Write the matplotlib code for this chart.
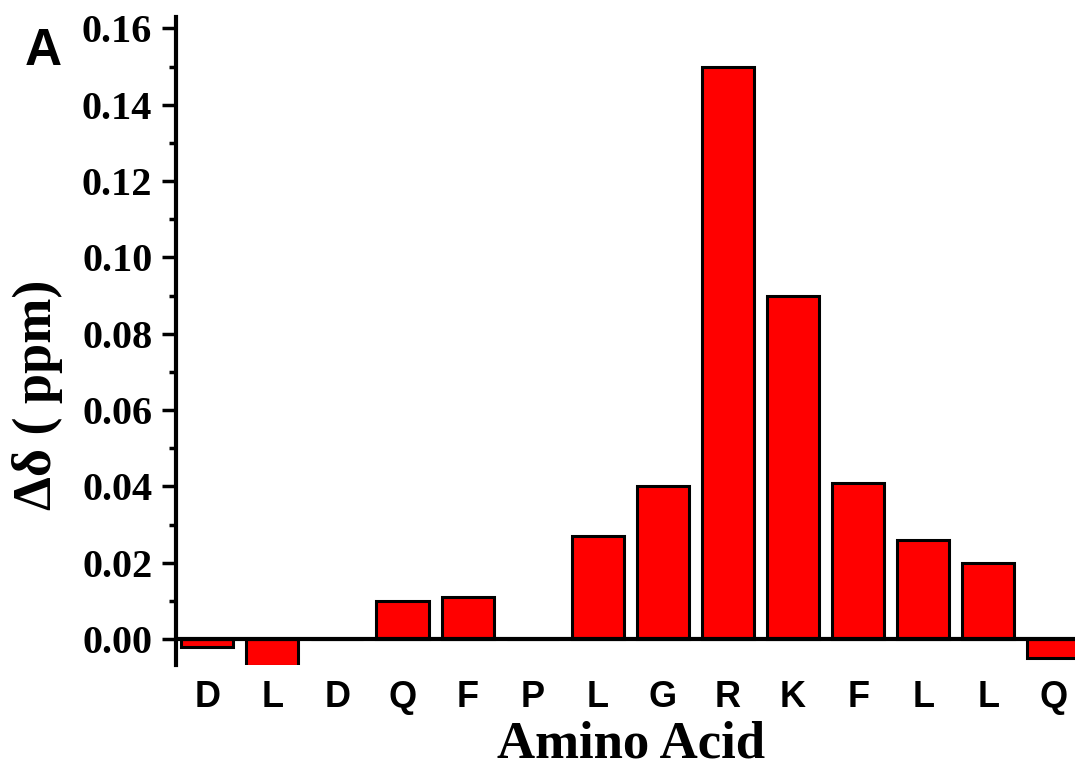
import matplotlib
matplotlib.use("Agg")
import matplotlib.pyplot as plt
from matplotlib.ticker import MultipleLocator

residues = ["D", "L", "D", "Q", "F", "P", "L", "G", "R", "K", "F", "L", "L", "Q"]
shift = [-0.002, -0.007, 0.0, 0.010, 0.011, 0.0, 0.027, 0.040,
         0.150, 0.090, 0.041, 0.026, 0.020, -0.005]

fig = plt.figure(figsize=(10.75, 7.71), dpi=100)
ax = fig.add_axes([0.1637, 0.1375, 0.8466, 0.8405])

x = range(len(residues))
ax.bar(x, shift, width=0.8, color="#ff0000", edgecolor="black", linewidth=2.2, zorder=2)
ax.axhline(0, color="black", linewidth=3, zorder=3)

ax.set_xlim(-0.48, 13.5)
ax.set_ylim(-0.0068, 0.163)

for side in ["top", "right", "bottom"]:
    ax.spines[side].set_visible(False)
ax.spines["left"].set_linewidth(3)

# y axis: major every 0.02, minor every 0.01, ticks outward
ax.yaxis.set_major_locator(MultipleLocator(0.02))
ax.yaxis.set_minor_locator(MultipleLocator(0.01))
ax.tick_params(axis="y", which="major", direction="out", length=10, width=2.5, pad=7)
ax.tick_params(axis="y", which="minor", direction="out", length=5, width=2.5)
ax.set_yticks([0, 0.02, 0.04, 0.06, 0.08, 0.10, 0.12, 0.14, 0.16])
ax.set_yticklabels(["%.2f" % v for v in ax.get_yticks()],
                   fontfamily="Liberation Serif", fontweight="bold", fontsize=29)

ax.set_xticks(list(x))
ax.set_xticklabels(residues, fontfamily="Liberation Sans", fontweight="bold", fontsize=26)
ax.tick_params(axis="x", length=0, pad=11)

ax.set_xlabel("Amino Acid", fontfamily="Liberation Serif", fontweight="bold", fontsize=38)
ax.xaxis.label.set_va("baseline")
ax.xaxis.set_label_coords(0.5, -0.1435)

ax.set_ylabel("Δδ ( ppm)", fontfamily="Liberation Serif", fontweight="bold", fontsize=39)
ax.yaxis.label.set_va("center")
ax.yaxis.set_label_coords(-0.152, 0.417)

fig.text(25 / 1075, (771 - 65) / 771, "A", fontfamily="Liberation Sans",
         fontweight="bold", fontsize=37, ha="left", va="baseline")

fig.savefig("out.png", dpi=100)
